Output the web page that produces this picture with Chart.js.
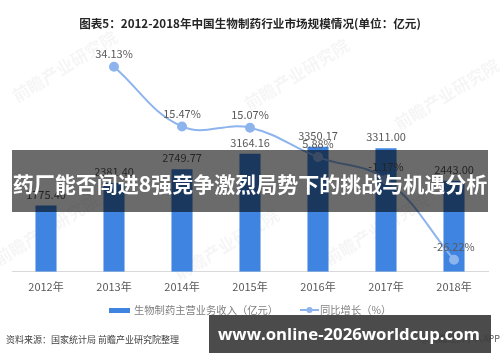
<!DOCTYPE html>
<html>
<head>
<meta charset="utf-8">
<script src="https://cdn.jsdelivr.net/npm/chart.js@4.4.0/dist/chart.umd.min.js"></script>
<style>
  html, body { margin: 0; padding: 0; background: #fff; }
  #wrap { width: 500px; height: 362px; position: relative; }
</style>
</head>
<body>
<div id="wrap"><canvas id="canvas" width="500" height="362"></canvas></div>
<script>
// data
var years = ['2012年', '2013年', '2014年', '2015年', '2016年', '2017年', '2018年'];
var revenue = [1775.40, 2381.40, 2749.77, 3164.16, 3350.17, 3311.00, 2443.00];
var growth = [null, 34.13, 15.47, 15.07, 5.88, -1.17, -26.22];

var revenueName = '生物制药主营业务收入（亿元）';
var growthName = '同比增长（%）';
var titleText = '图表5：2012-2018年中国生物制药行业市场规模情况(单位：亿元)';
var sourceText = '资料来源：国家统计局 前瞻产业研究院整理';
var bannerText = '药厂能否闯进8强竞争激烈局势下的挑战与机遇分析';
var siteText = 'www.online-2026worldcup.com';

var FONT = "'Noto Sans CJK SC', 'Liberation Sans', sans-serif";
var BAR = '#3f84e0';
var LINE = '#8db4ec';

function fitFont(ctx, text, weight, size, maxW) {
  ctx.font = weight + ' ' + size + 'px ' + FONT;
  var w = ctx.measureText(text).width;
  if (w > maxW) {
    size = size * maxW / w;
    ctx.font = weight + ' ' + size + 'px ' + FONT;
  }
}

// value labels on bars and points
var labelPlugin = {
  id: 'labels',
  afterDatasetsDraw: function(chart) {
    var ctx = chart.ctx;
    ctx.save();
    ctx.fillStyle = '#595959';
    ctx.font = '11px ' + FONT;
    ctx.textAlign = 'center';
    ctx.textBaseline = 'middle';
    chart.getDatasetMeta(0).data.forEach(function(el, i) {
      ctx.fillText(revenue[i].toFixed(2), el.x, el.y - 11);
    });
    chart.getDatasetMeta(1).data.forEach(function(el, i) {
      if (growth[i] == null) return;
      ctx.fillText(growth[i].toFixed(2) + '%', el.x, el.y - 13);
    });
    ctx.restore();
  }
};

// title, legend, source, watermarks, overlays
var decoPlugin = {
  id: 'deco',
  beforeDraw: function(chart) {
    var ctx = chart.ctx;
    ctx.save();
    ctx.fillStyle = 'rgba(0,0,0,0.04)';
    ctx.font = 'bold 17px ' + FONT;
    var marks = [[68, 72], [300, 80], [450, 100], [50, 235], [380, 235], [230, 250]];
    marks.forEach(function(m) {
      ctx.save();
      ctx.translate(m[0], m[1]);
      ctx.rotate(-0.55);
      ctx.textAlign = 'center';
      ctx.fillText('前瞻产业研究院', 0, 0);
      ctx.restore();
    });
    ctx.restore();
  },
  afterDraw: function(chart) {
    var ctx = chart.ctx;
    ctx.save();
    // title
    ctx.fillStyle = '#262626';
    ctx.textAlign = 'center';
    ctx.textBaseline = 'middle';
    fitFont(ctx, titleText, 'bold', 13, 342);
    ctx.fillText(titleText, 250, 24);

    // legend
    ctx.fillStyle = BAR;
    ctx.fillRect(109, 308, 21, 5);
    ctx.fillStyle = '#7f7f7f';
    ctx.textAlign = 'left';
    ctx.font = '10.3px ' + FONT;
    ctx.fillText(revenueName, 134, 310);
    ctx.strokeStyle = LINE;
    ctx.lineWidth = 2;
    ctx.beginPath();
    ctx.moveTo(300, 310);
    ctx.lineTo(319, 310);
    ctx.stroke();
    ctx.fillStyle = LINE;
    ctx.beginPath();
    ctx.arc(309.5, 310, 3, 0, Math.PI * 2);
    ctx.fill();
    ctx.fillStyle = '#7f7f7f';
    ctx.fillText(growthName, 320, 310);

    // source
    ctx.fillStyle = '#404040';
    ctx.font = '9px ' + FONT;
    ctx.fillText(sourceText, 6, 340);
    ctx.textAlign = 'right';
    ctx.fillStyle = '#595959';
    ctx.fillText('@前瞻经济学人APP', 500, 339);

    // dark banner across the middle
    ctx.fillStyle = 'rgba(0,0,0,0.58)';
    ctx.fillRect(12, 150, 476, 62);
    ctx.fillStyle = '#ffffff';
    ctx.textAlign = 'center';
    fitFont(ctx, bannerText, 'bold', 22, 475);
    ctx.fillText(bannerText, 250, 184);

    // site banner at the bottom
    ctx.fillStyle = 'rgba(60,60,60,0.92)';
    ctx.fillRect(209, 315, 282, 38);
    ctx.fillStyle = '#ffffff';
    ctx.font = "bold 21px 'Open Sans', 'DejaVu Sans', sans-serif";
    var w = ctx.measureText(siteText).width;
    if (w > 262) ctx.font = "bold " + (21 * 262 / w) + "px 'Open Sans', 'DejaVu Sans', sans-serif";
    ctx.fillText(siteText, 349, 335);
    ctx.restore();
  }
};

new Chart(document.getElementById('canvas'), {
  data: {
    labels: years,
    datasets: [
      {
        type: 'bar',
        label: revenueName,
        data: revenue,
        backgroundColor: BAR,
        barPercentage: 0.31,
        categoryPercentage: 1,
        yAxisID: 'y',
        order: 1
      },
      {
        type: 'line',
        label: growthName,
        data: growth,
        borderColor: LINE,
        backgroundColor: LINE,
        borderWidth: 2,
        pointRadius: 4,
        pointBackgroundColor: LINE,
        pointBorderColor: LINE,
        tension: 0.4,
        yAxisID: 'y2',
        order: 0
      }
    ]
  },
  options: {
    responsive: false,
    animation: false,
    layout: { padding: { left: 12, right: 12, top: 48, bottom: 61 } },
    plugins: {
      legend: { display: false },
      title: { display: false },
      tooltip: { enabled: false }
    },
    scales: {
      x: {
        grid: { display: false, drawTicks: false },
        border: { display: true, color: '#d9d9d9', width: 1 },
        ticks: { color: '#595959', font: { size: 11, family: FONT }, padding: 8 }
      },
      y: { display: false, min: 0, max: 6000 },
      y2: { display: false, min: -30, max: 40 }
    }
  },
  plugins: [labelPlugin, decoPlugin]
});
</script>
</body>
</html>
